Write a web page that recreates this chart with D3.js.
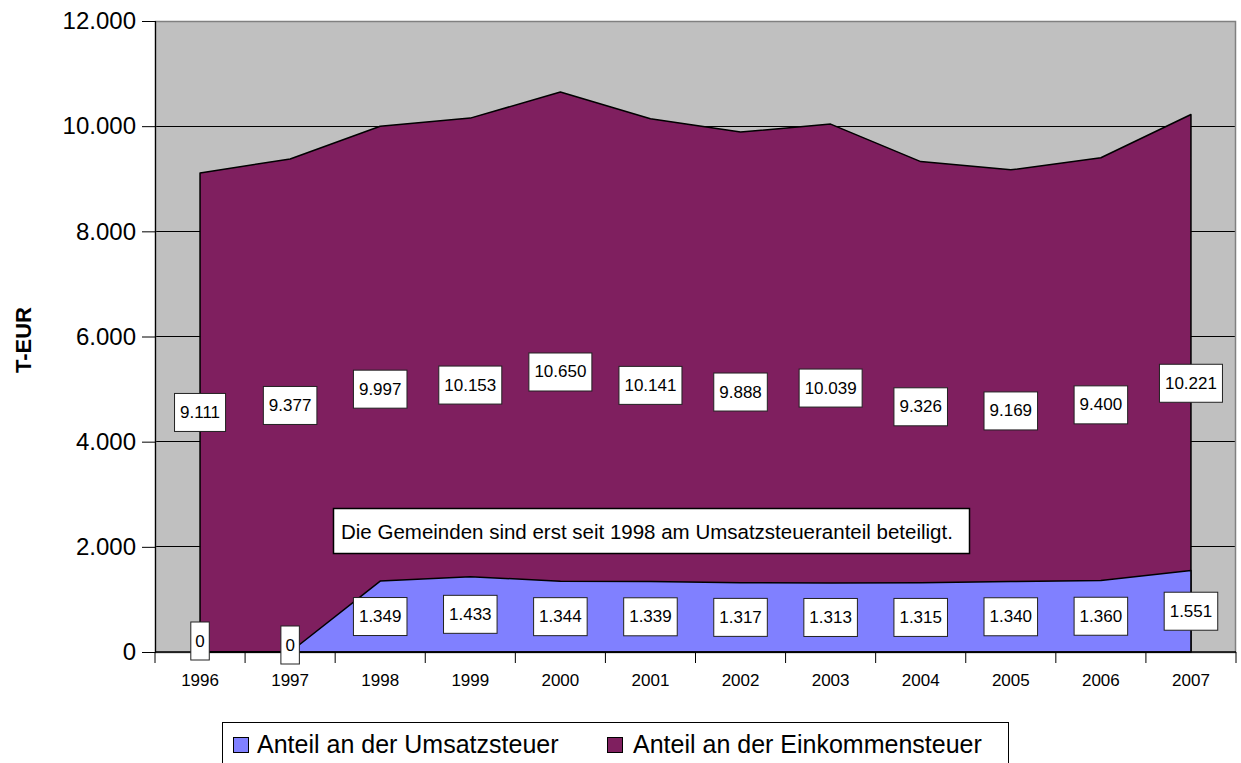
<!DOCTYPE html>
<html><head><meta charset="utf-8">
<script src="https://cdn.jsdelivr.net/npm/d3@7"></script>
<style>
html,body{margin:0;padding:0;background:#fff;}
svg{display:block;font-family:"Liberation Sans",Arial,sans-serif;}
</style></head>
<body><svg id="chart" width="1241" height="763"></svg>
<script>
const years = ["1996","1997","1998","1999","2000","2001","2002","2003","2004","2005","2006","2007"];
const einkommensteuer = [9111,9377,9997,10153,10650,10141,9888,10039,9326,9169,9400,10221];
const umsatzsteuer = [0,0,1349,1433,1344,1339,1317,1313,1315,1340,1360,1551];
const yTicks = [0,2000,4000,6000,8000,10000,12000];
const seriesNames = ["Anteil an der Umsatzsteuer","Anteil an der Einkommensteuer"];
const note = "Die Gemeinden sind erst seit 1998 am Umsatzsteueranteil beteiligt.";
const yTitle = "T-EUR";

const svg = d3.select("#chart");
const pL = 155, pR = 1236, pT = 21, pB = 652;
const x = d3.scaleBand().domain(years).range([pL, pR]).padding(0);
const y = d3.scaleLinear().domain([0, 12000]).range([pB, pT]);
const cx = d => x(d) + x.bandwidth()/2;
const loc = d3.formatLocale({decimal:",", thousands:".", grouping:[3], currency:["","€"]});
const fmt = loc.format(",d");

const purple = "#7f1f5f", blue = "#8080ff", grey = "#c0c0c0";

// plot background
svg.append("rect").attr("x", pL).attr("y", pT).attr("width", pR-pL).attr("height", pB-pT)
  .attr("fill", grey);

// gridlines
svg.append("g").selectAll("line").data(yTicks.filter(t => t > 0 && t < 12000)).join("line")
  .attr("x1", pL).attr("x2", pR).attr("y1", d => y(d)).attr("y2", d => y(d))
  .attr("stroke", "#000").attr("stroke-width", 1).attr("shape-rendering","crispEdges");

// border
svg.append("rect").attr("x", pL+0.5).attr("y", pT+0.5).attr("width", pR-pL-1).attr("height", pB-pT)
  .attr("fill", "none").attr("stroke", "#808080").attr("stroke-width", 1.5);

// areas
const area = d3.area().x((d,i) => cx(years[i])).y0(y(0)).y1(d => y(d));
svg.append("path").datum(einkommensteuer).attr("d", area)
  .attr("fill", purple).attr("stroke", "#000").attr("stroke-width", 1.5).attr("stroke-linejoin","round");
svg.append("path").datum(umsatzsteuer).attr("d", area)
  .attr("fill", blue).attr("stroke", "#000").attr("stroke-width", 1.5).attr("stroke-linejoin","round");

// axes
const yAxis = d3.axisLeft(y).tickValues(yTicks).tickSize(13).tickFormat(d => fmt(d));
const gy = svg.append("g").attr("transform", `translate(${pL},0)`).call(yAxis);
gy.select(".domain").attr("stroke", "#000").attr("stroke-width", 1.2);
gy.selectAll(".tick line").attr("stroke", "#000");
gy.selectAll(".tick text").attr("font-size", 24).attr("fill", "#000").attr("x", -19)
  .attr("font-family", "Liberation Sans, Arial, sans-serif");

const gx = svg.append("g").attr("transform", `translate(0,${pB})`);
gx.append("line").attr("x1", pL).attr("x2", pR).attr("y1", 0).attr("y2", 0)
  .attr("stroke", "#000").attr("stroke-width", 1.5);
const bounds = years.map(d => x(d)).concat([pR]);
gx.selectAll("line.tk").data(bounds).join("line").attr("class","tk")
  .attr("x1", d => d).attr("x2", d => d).attr("y1", 0).attr("y2", 11)
  .attr("stroke", "#000").attr("stroke-width", 1);
gx.selectAll("text").data(years).join("text")
  .attr("x", d => cx(d)).attr("y", 34).attr("text-anchor", "middle")
  .attr("font-size", 17).attr("fill", "#000").text(d => d);

// y title
svg.append("text").attr("transform", "translate(31,340) rotate(-90)")
  .attr("text-anchor", "middle").attr("font-size", 22).attr("font-weight", "bold").text(yTitle);

// data labels
function labels(vals) {
  const g = svg.append("g");
  vals.forEach((v, i) => {
    const cxp = cx(years[i]);
    let cy = y(v/2);
    if (v === 0) cy = y(0) - 9 - (i % 2 === 0 ? 2 : -2);
    const t = g.append("text").attr("x", cxp).attr("y", cy).attr("text-anchor", "middle")
      .attr("dominant-baseline", "central").attr("font-size", 17).attr("fill", "#000").text(fmt(v));
    const w = t.node().getComputedTextLength();
    const bw = v === 0 ? w + 9 : w + 11;
    g.insert("rect", "text").attr("x", cxp - bw/2).attr("y", cy - 19).attr("width", bw).attr("height", 38)
      .attr("fill", "#fff").attr("stroke", "#222").attr("stroke-width", 1);
  });
}
labels(einkommensteuer);
labels(umsatzsteuer);

// note box
const ng = svg.append("g");
ng.append("rect").attr("x", 333.5).attr("y", 508.5).attr("width", 636).attr("height", 45)
  .attr("fill", "#fff").attr("stroke", "#000").attr("stroke-width", 1.5);
ng.append("text").attr("x", 341).attr("y", 531).attr("dominant-baseline", "central")
  .attr("font-size", 20.5).attr("fill", "#000").text(note);

// legend
const lg = svg.append("g");
lg.append("rect").attr("x", 222.5).attr("y", 722.5).attr("width", 786).attr("height", 60)
  .attr("fill", "#fff").attr("stroke", "#000").attr("stroke-width", 1);
const legendItems = [{name: seriesNames[0], color: blue, sx: 233, tx: 257},
                     {name: seriesNames[1], color: purple, sx: 607, tx: 633}];
legendItems.forEach(it => {
  lg.append("rect").attr("x", it.sx + 0.5).attr("y", 737.5).attr("width", 15).attr("height", 15)
    .attr("fill", it.color).attr("stroke", "#000").attr("stroke-width", 1);
  lg.append("text").attr("x", it.tx).attr("y", 753).attr("font-size", 25).attr("fill", "#000").text(it.name);
});
</script></body></html>
